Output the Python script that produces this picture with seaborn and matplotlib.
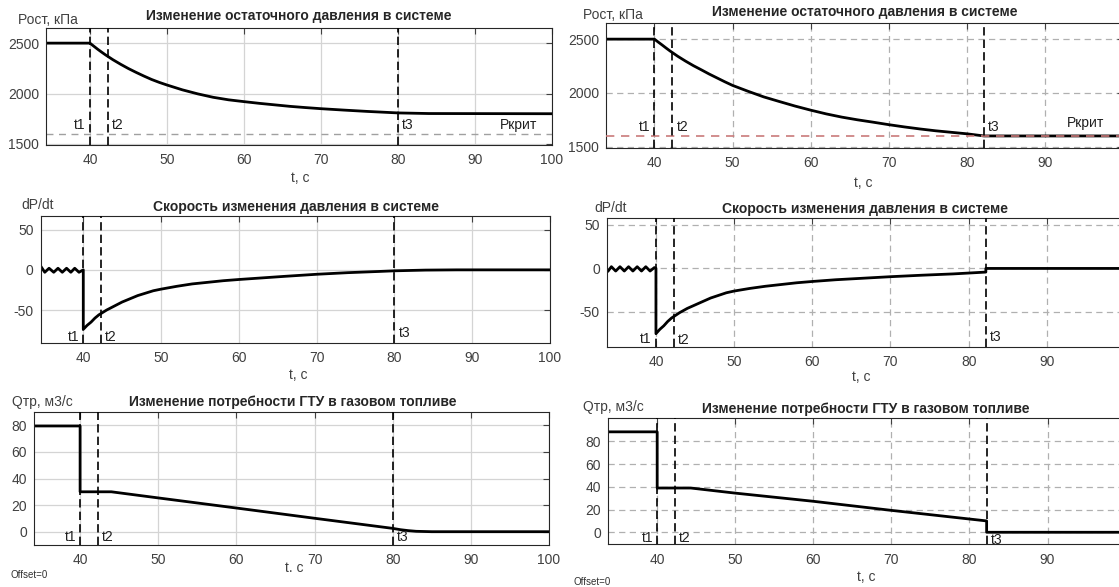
import numpy as np
import pandas as pd
import matplotlib
matplotlib.use("Agg")
import matplotlib.pyplot as plt
import seaborn as sns

# ---- data (left run = a, right run = b) ----
t1, t2 = 40.0, 42.3
t3_a, t3_b = 80.0, 82.2
p_crit = 1600

# residual pressure, kPa
p_time_a = [34.3, 40, 40.5, 41, 41.5, 42, 43, 44, 45, 46, 47, 48, 49, 50, 52, 54, 56, 58, 60,
            62, 64, 66, 68, 70, 73, 76, 80, 84, 100]
p_val_a = [2500, 2500, 2470, 2440, 2412, 2385, 2335, 2290, 2248, 2210, 2174, 2140, 2111, 2085,
           2037, 1997, 1963, 1938, 1920, 1903, 1888, 1873, 1861, 1850, 1836, 1823, 1808, 1802, 1800]
p_time_b = [33.8, 40, 40.5, 41, 41.5, 42, 43, 44, 45, 46, 47, 48, 49, 50, 52, 54, 56, 58, 60,
            62, 64, 66, 68, 70, 72, 74, 76, 78, 80, 82.2, 100]
p_val_b = [2500, 2500, 2472, 2445, 2417, 2390, 2340, 2295, 2253, 2215, 2176, 2140, 2104, 2070,
           2015, 1963, 1920, 1878, 1840, 1805, 1775, 1750, 1728, 1705, 1684, 1665, 1648, 1634,
           1620, 1600, 1600]

# pressure rate dP/dt
dp_time_a = [34.5, 35.05, 35.6, 36.2, 36.75, 37.3, 37.85, 38.4, 38.9, 39.45, 40, 40,
             40.5, 41, 41.5, 42, 43, 44, 45, 46, 47, 48, 49, 50, 52, 54, 56, 58, 60,
             63, 66, 70, 74, 78, 80, 84, 88, 100]
dp_val_a = [5, -3, 2, -3, 2, -3, 2, -3, 2, -3, 0, -74,
            -69, -65, -60, -56, -50, -45, -40, -36, -32, -29, -26, -24, -20.5, -17.5, -15.5,
            -13.5, -12, -10, -8, -5.5, -3.5, -2, -1.2, -0.3, 0, 0]
dp_time_b = [33.8, 34.3, 34.85, 35.4, 35.95, 36.5, 37.05, 37.6, 38.15, 38.7, 39.25, 39.8, 40, 40,
             40.5, 41, 41.5, 42, 43, 44, 45, 46, 47, 48, 49, 50, 52, 54, 56, 58, 60,
             63, 66, 70, 74, 78, 80, 82.2, 82.2, 100]
dp_val_b = [-4, 2, -3, 2, -3, 2, -3, 2, -3, 2, -3, 1, 0, -75,
            -70, -66, -61, -57, -51, -46, -42, -38, -34, -31, -28, -26, -23, -20.5, -18.5,
            -16.5, -15, -13, -11.5, -9.5, -7.8, -6.3, -5.3, -4.2, 0, 0]

# gas turbine fuel demand, m3/s
q_time_a = [34.1, 40, 40, 44, 50, 60, 70, 80, 81, 82, 83, 85, 100]
q_val_a = [79.5, 79.5, 30, 30, 25.4, 17.8, 10.1, 2.5, 1.5, 0.8, 0.3, 0, 0]
q_time_b = [33.8, 40, 40, 44.3, 50, 60, 70, 82.2, 82.2, 100]
q_val_b = [88.5, 88.5, 39, 39, 34.5, 27.3, 19.3, 10, 0, 0]

x_ticks_a = [40, 50, 60, 70, 80, 90, 100]
x_ticks_b = [40, 50, 60, 70, 80, 90]

# ---- styling ----
sns.set_style("white")
plt.rcParams["font.family"] = ["Liberation Sans", "DejaVu Sans"]
plt.rcParams["axes.unicode_minus"] = False
plt.rcParams["lines.solid_capstyle"] = "butt"

W, H = 1119, 587
fig = plt.figure(figsize=(W / 100, H / 100), dpi=100)
GREY = "#404040"


def add_ax(left, top, right, bottom):
    return fig.add_axes([left / W, 1 - bottom / H, (right - left) / W, (bottom - top) / H])


def ftext(x, y, s, **kw):
    kw.setdefault("va", "center")
    fig.text(x / W, 1 - y / H, s, **kw)


def panel(ax, t, v, xlim, ylim, xticks, yticks, t3, lab_y, dashed_grid):
    if dashed_grid:
        ax.grid(True, color="#b0b0b0", lw=0.9, ls=(0, (5, 3.5)))
    else:
        ax.grid(True, color="#d4d4d4", lw=0.9, ls="-")
    ax.set_axisbelow(True)
    sns.lineplot(x=t, y=v, ax=ax, color="black", lw=2.0, estimator=None, sort=False)
    for tx in (t1, t2, t3):
        ax.axvline(tx, color="black", lw=1.2, ls=(0, (5, 2.5)), zorder=4)
    ax.annotate("t1", (t1, lab_y[0]), xytext=(-3, 0), textcoords="offset points",
                ha="right", va="center", fontsize=10, color="#202020")
    ax.annotate("t2", (t2, lab_y[1]), xytext=(3, 0), textcoords="offset points",
                ha="left", va="center", fontsize=10, color="#202020")
    ax.annotate("t3", (t3, lab_y[2]), xytext=(3, 0), textcoords="offset points",
                ha="left", va="center", fontsize=10, color="#202020")
    ax.set_xlim(*xlim)
    ax.set_ylim(*ylim)
    ax.set_xticks(xticks)
    ax.set_yticks(yticks)
    if dashed_grid:
        # grid line at 100 stays on the cropped right border
        ax.axvline(100, color="#b0b0b0", lw=0.9, ls=(0, (5, 3.5)), zorder=0.5)
    ax.set_xlabel("")
    ax.set_ylabel("")
    ax.tick_params(direction="in", length=4, width=0.8, top=True, right=True,
                   colors=GREY, labelsize=10)
    ax.tick_params(axis="x", pad=6)
    ax.tick_params(axis="y", pad=5)
    for s in ax.spines.values():
        s.set_color("#262626")
        s.set_linewidth(0.8)


# ---- left figure ----
ax = add_ax(46, 28, 552, 145)
panel(ax, p_time_a, p_val_a, (34.3, 100), (1490, 2650), x_ticks_a, [1500, 2000, 2500], t3_a,
      (1690, 1690, 1690), False)
ax.axhline(p_crit, color="#a0a0a0", lw=1.0, ls=(0, (5, 4)), zorder=1.5)
ax.text(95.7, 1690, "Ркрит", ha="center", va="center", fontsize=10, color="#202020")
ftext(299, 16, "Изменение остаточного давления в системе", ha="center", fontsize=10, fontweight="bold")
ftext(18, 20, "Рост, кПа", ha="left", fontsize=10, color=GREY)
ftext(300, 178, "t, c", ha="center", fontsize=10, color=GREY)

ax = add_ax(40.5, 216, 550, 343)
panel(ax, dp_time_a, dp_val_a, (34.5, 100), (-91, 67), x_ticks_a, [-50, 0, 50], t3_a,
      (-84, -84, -79), False)
ftext(296, 207, "Скорость изменения давления в системе", ha="center", fontsize=10, fontweight="bold")
ftext(21, 205, "dP/dt", ha="left", fontsize=10, color=GREY)
ftext(298, 375, "t, c", ha="center", fontsize=10, color=GREY)

ax = add_ax(34, 412, 549, 545)
panel(ax, q_time_a, q_val_a, (34.1, 100), (-10, 90), x_ticks_a, [0, 20, 40, 60, 80], t3_a,
      (-3.8, -3.8, -3.8), False)
ftext(293, 402, "Изменение потребности ГТУ в газовом топливе", ha="center", fontsize=10, fontweight="bold")
ftext(12.5, 402, "Qтр, м3/с", ha="left", fontsize=10, color=GREY)
ftext(294.5, 568, "t. c", ha="center", fontsize=10, color=GREY)
ftext(10.7, 575, "Offset=0", ha="left", fontsize=7, color="#303030")

# ---- right figure (cropped at the right border in the original) ----
ax = add_ax(606, 23, 1123, 148)
panel(ax, p_time_b, p_val_b, (33.8, 100), (1488, 2650), x_ticks_b, [1500, 2000, 2500], t3_b,
      (1684, 1684, 1684), True)
ax.axhline(p_crit, color="#c97a7a", lw=1.2, ls=(0, (5, 4)), zorder=3)
ax.text(95.2, 1716, "Ркрит", ha="center", va="center", fontsize=10, color="#202020")
ftext(865, 12, "Изменение остаточного давления в системе", ha="center", fontsize=10, fontweight="bold")
ftext(583, 15, "Рост, кПа", ha="left", fontsize=10, color=GREY)
ftext(863, 183, "t, c", ha="center", fontsize=10, color=GREY)

ax = add_ax(606.7, 218, 1125, 346.7)
panel(ax, dp_time_b, dp_val_b, (33.7, 100), (-90, 58), x_ticks_b, [-50, 0, 50], t3_b,
      (-80.6, -81.8, -78.7), True)
ftext(865, 209, "Скорость изменения давления в системе", ha="center", fontsize=10, fontweight="bold")
ftext(594, 208, "dP/dt", ha="left", fontsize=10, color=GREY)
ftext(861, 377, "t, c", ha="center", fontsize=10, color=GREY)

ax = add_ax(608, 418, 1125.6, 544.3)
panel(ax, q_time_b, q_val_b, (33.7, 100), (-10.6, 100.7), x_ticks_b, [0, 20, 40, 60, 80], t3_b,
      (-5.3, -5.3, -6.8), True)
ftext(866, 409, "Изменение потребности ГТУ в газовом топливе", ha="center", fontsize=10, fontweight="bold")
ftext(583, 407, "Qтр, м3/с", ha="left", fontsize=10, color=GREY)
ftext(866.6, 577, "t, c", ha="center", fontsize=10, color=GREY)
ftext(574, 582, "Offset=0", ha="left", fontsize=7, color="#303030")

fig.savefig("out.png", dpi=100)
